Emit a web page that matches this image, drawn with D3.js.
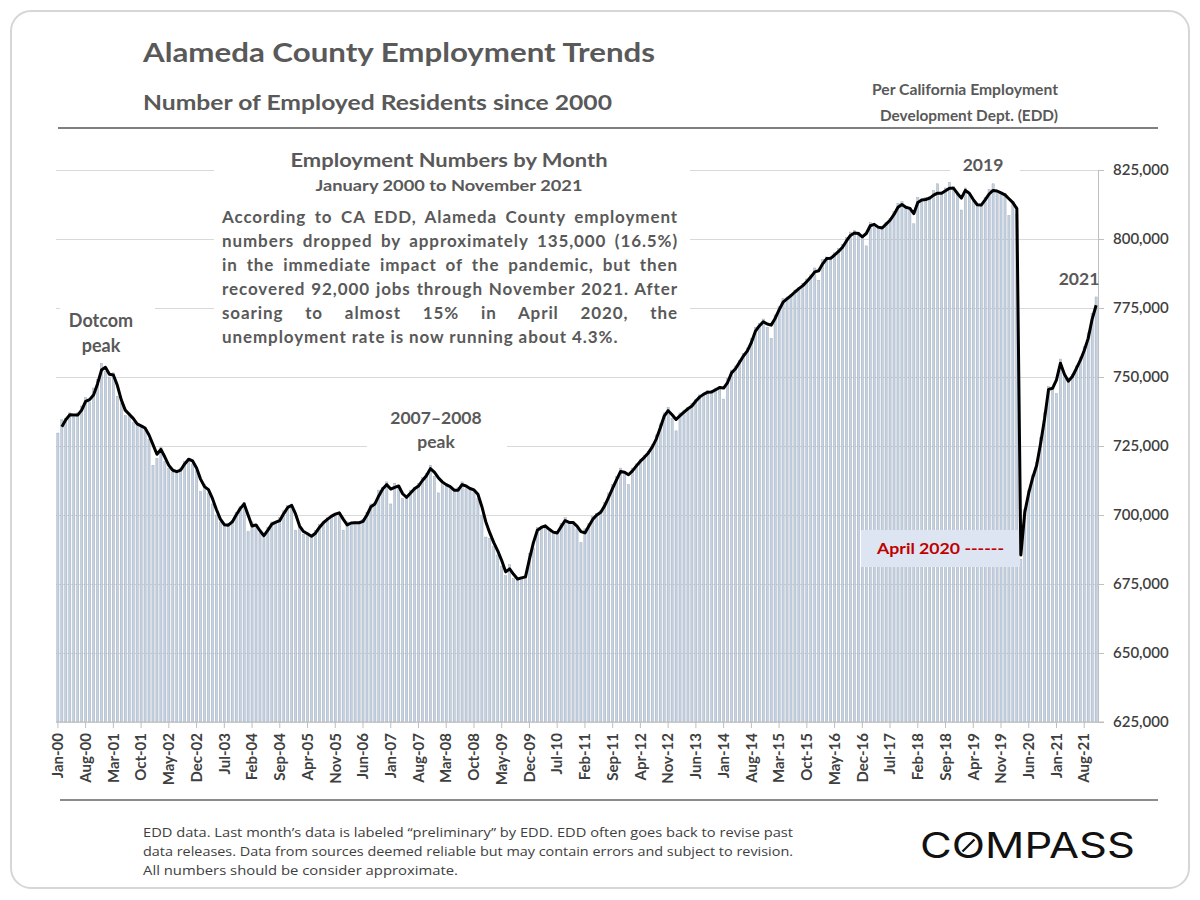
<!DOCTYPE html>
<html><head><meta charset="utf-8">
<script src="https://cdn.jsdelivr.net/npm/d3@7"></script>
<style>
body{margin:0;background:#fff;}
svg{display:block;font-family:Lato,'Open Sans',sans-serif;}
</style>
</head><body><svg id="c" width="1200" height="900"></svg>
<script>
// ---- categories: months Jan-2000 .. Nov-2021
const months = d3.timeMonth.range(new Date(2000,0,1), new Date(2021,11,1)).map(d3.timeFormat("%b-%y"));

// ---- bars: monthly employed residents
const barValues = [
 729700,734500,735000,737000,735500,737000,739500,742500,741000,746000,749000,755000,
 752000,750000,751500,743000,740500,736000,737000,733500,732500,732000,731000,727500,
 718000,720500,724500,719500,717000,715500,716000,717000,719500,720500,718500,716000,
 708500,711000,708000,704000,700000,697500,696000,697000,698000,701000,703000,704500,
 694000,697500,695500,693500,692000,695500,697500,697000,699000,701500,703500,703000,
 694500,695500,693000,693000,692000,694500,696500,697500,699000,700000,700500,701000,
 694500,697500,697000,697500,697000,698500,701000,704000,704500,709000,710000,712000,
 704000,711500,709500,706000,707000,709000,710000,711500,713500,715000,718000,714000,
 708000,711500,710500,710000,708500,710000,712000,709500,709500,708500,706000,700000,
 692000,691500,688500,685500,681500,678000,682000,677000,676500,677500,678000,686000,
 688000,695500,696000,696000,694000,693500,694000,697000,699000,697000,697500,695000,
 690000,695000,697000,699500,700500,701500,704500,708000,711000,714000,717000,715000,
 711000,717000,718500,720000,721500,723000,725500,729000,733000,737000,739000,735000,
 730500,737000,738000,739000,740500,742000,743500,744000,745000,745000,746000,746500,
 742000,749500,752500,754000,756000,758500,760500,764000,768000,769500,771000,768000,
 764000,772500,775500,778500,779000,780000,781500,782500,784000,785500,787000,789500,
 785000,792500,793500,793500,795000,796500,798000,800500,802500,803000,802500,801000,
 797500,806000,805500,804000,804500,806000,807500,810000,813000,813500,811500,811500,
 805500,815000,814500,815000,815500,817500,820000,817000,818500,820500,819000,817000,
 810500,818500,816000,813500,812000,812500,815000,818000,820000,817500,817000,816500,
 808500,813500,809000,684000,702000,709000,714500,719000,728000,737000,746500,746000,
 744000,756500,750500,749000,751000,754000,757000,761000,766000,773000,779000
];

// ---- black trend line (starts at Feb-00)
const lineValues = [
 null,732000,734500,736300,736200,736200,738000,741200,741800,743500,747500,752500,
 753500,751000,750700,747000,741700,738000,736500,735000,733000,732300,731500,729000,
 725500,722000,723800,721000,718000,716200,715700,716300,718500,720200,719600,717000,
 713000,710300,709200,706000,702000,698500,696500,696300,697500,700000,702300,704000,
 700000,696000,696400,694300,692500,694500,696700,697400,698000,700500,702700,703500,
 700300,696000,694000,693200,692300,693400,695500,697200,698400,699500,700300,700800,
 698500,696400,697100,697200,697200,697700,700000,703000,704000,707000,709500,711000,
 709400,710000,710500,707700,706400,708000,709500,710500,712500,714200,716800,715500,
 713500,712000,711000,710300,709000,709000,711000,710500,709600,709100,707500,703000,
 697500,693500,690000,687000,683500,679400,680500,678500,676800,677200,677600,684000,
 690000,694500,695500,696100,694800,693800,693500,695800,698000,697300,697300,696000,
 694000,693500,696000,698500,700000,701000,703400,706500,709700,712800,715800,715500,
 714600,716000,717800,719500,720900,722500,724700,727500,731500,735800,737800,736300,
 734600,736000,737300,738500,739500,741300,742800,743800,744500,744600,745400,746200,
 746000,748000,751500,753000,755300,757600,759500,762500,766500,768500,770000,769200,
 768800,771200,774300,777100,778300,779500,780800,782000,783100,784600,786200,788100,
 788500,791000,792900,793000,794200,795500,797000,799300,801300,802200,802000,800800,
 802000,804800,805300,804300,804000,805400,806800,808900,811500,812500,811500,811100,
 809200,813200,814100,814300,814800,815900,816600,816600,817500,818400,818400,816500,
 814800,817600,816600,814300,812400,812300,814200,816300,817600,817400,816700,816000,
 814600,813200,811000,685500,701000,708000,713500,718000,726000,735000,745500,745900,
 749000,755000,751000,748500,750200,753000,756000,759600,764000,771000,776000
];

const xTickLabels = ["Jan-00","Aug-00","Mar-01","Oct-01","May-02","Dec-02","Jul-03","Feb-04","Sep-04",
 "Apr-05","Nov-05","Jun-06","Jan-07","Aug-07","Mar-08","Oct-08","May-09","Dec-09","Jul-10","Feb-11",
 "Sep-11","Apr-12","Nov-12","Jun-13","Jan-14","Aug-14","Mar-15","Oct-15","May-16","Dec-16","Jul-17",
 "Feb-18","Sep-18","Apr-19","Nov-19","Jun-20","Jan-21","Aug-21"];
const yTicks = [625000,650000,675000,700000,725000,750000,775000,800000,825000];

const paragraph = [
 "According to CA EDD, Alameda County employment",
 "numbers dropped by approximately 135,000 (16.5%)",
 "in the immediate impact of the pandemic, but then",
 "recovered 92,000 jobs through November 2021. After",
 "soaring to almost 15% in April 2020, the",
 "unemployment rate is now running about 4.3%."
];
const footer = [
 "EDD data. Last month\u2019s data is labeled \u201cpreliminary\u201d by EDD. EDD often goes back to revise past",
 "data releases. Data from sources deemed reliable but may contain errors and subject to revision.",
 "All numbers should be consider approximate."
];

const svg = d3.select("#c");
const TXT = "#595959";

// card
svg.append("rect").attr("x",11).attr("y",11).attr("width",1178).attr("height",877)
  .attr("rx",20).attr("fill","#fff").attr("stroke","#d6d6d6").attr("stroke-width",2);

function txt(x,y,s,size,opts={}){
  const t = svg.append("text").attr("x",x).attr("y",y).text(s)
    .attr("font-size",size).attr("font-weight",opts.weight||700)
    .attr("fill",opts.fill||TXT).attr("text-anchor",opts.anchor||"start");
  if(opts.family) t.attr("font-family",opts.family);
  if(opts.len){ t.attr("textLength",opts.len).attr("lengthAdjust","spacingAndGlyphs"); }
  return t;
}

// titles
txt(143,62,"Alameda County Employment Trends",27,{len:512});
txt(143,110,"Number of Employed Residents since 2000",21,{len:469});
txt(1058,95,"Per California Employment",14.5,{anchor:"end",len:186});
txt(1058,121,"Development Dept. (EDD)",14.5,{anchor:"end",len:178});
svg.append("line").attr("x1",58).attr("x2",1158).attr("y1",128).attr("y2",128).attr("stroke","#7f7f7f").attr("stroke-width",2);
svg.append("line").attr("x1",60).attr("x2",1158).attr("y1",800).attr("y2",800).attr("stroke","#8c8c8c").attr("stroke-width",2);

// scales
const x = d3.scaleBand().domain(months).range([56,1098]).paddingInner(0.45).paddingOuter(0.2);
const y = d3.scaleLinear().domain([625000,825000]).range([722,170]);
const cx = m => x(m) + x.bandwidth()/2;

// gridlines
const grid = svg.append("g").attr("transform","translate(1098,0)")
  .call(d3.axisRight(y).tickValues(yTicks).tickSize(-(1098-56)).tickFormat(""));
grid.select(".domain").remove();
grid.selectAll("line").attr("stroke","#d9d9d9").attr("stroke-width",1.2);

// white label backgrounds (cover gridlines)
[[60,300,95,58],[214,145,476,208],[275,145,356,60],[367,400,140,56],[950,150,70,28]].forEach(r=>{
  svg.append("rect").attr("x",r[0]).attr("y",r[1]).attr("width",r[2]).attr("height",r[3]).attr("fill","#fff");
});

// bars
svg.append("g").selectAll("rect").data(barValues).join("rect")
  .attr("x",(d,i)=>x(months[i])).attr("width",x.bandwidth())
  .attr("y",d=>y(d)).attr("height",d=>y(625000)-y(d))
  .attr("fill","#c3d1e3").attr("stroke","#9ea8b4").attr("stroke-width",0.45);

// April 2020 box
svg.append("rect").attr("x",861).attr("y",530).attr("width",159).attr("height",37).attr("fill","#dce5f1");
txt(877,554,"April 2020 ------",16,{fill:"#c00000",len:127});

// line
svg.append("path").datum(lineValues)
  .attr("d", d3.line().defined(d=>d!=null).x((d,i)=>cx(months[i])).y(d=>y(d)))
  .attr("fill","none").attr("stroke","#000").attr("stroke-width",3).attr("stroke-linejoin","round");

// right axis
const ya = svg.append("g").attr("transform","translate(1098,0)")
  .call(d3.axisRight(y).tickValues(yTicks).tickSize(6).tickPadding(9).tickFormat(d3.format(",")));
ya.select(".domain").attr("stroke","#bfbfbf");
ya.selectAll("line").attr("stroke","#bfbfbf");
ya.selectAll("text").attr("font-size",15).attr("font-weight",600).attr("fill","#404040")
  .attr("font-family","Lato,'Open Sans',sans-serif");

// x axis
const xa = svg.append("g").attr("transform","translate(0,722)")
  .call(d3.axisBottom(x).tickValues(xTickLabels).tickSize(6).tickPadding(4).tickSizeOuter(0));
xa.select(".domain").attr("stroke","#bfbfbf").attr("d","M56,0H1104");
xa.selectAll("line").attr("stroke","#bfbfbf");
xa.selectAll("text").attr("font-size",15).attr("font-weight",700).attr("fill","#404040")
  .attr("font-family","Lato,'Open Sans',sans-serif")
  .attr("transform","rotate(-90)").attr("text-anchor","end").attr("dy","0.35em")
  .attr("x",-11).attr("y",0);

// annotation text
txt(449,167,"Employment Numbers by Month",18,{anchor:"middle",len:317});
txt(449,191,"January 2000 to November 2021",15,{anchor:"middle",len:267});
paragraph.forEach((s,i)=>{
  const t = txt(222,223+i*24,s,17).attr("letter-spacing",0.9);
  if(i<paragraph.length-1){
    const nat = t.node().getComputedTextLength();
    const spaces = (s.match(/ /g)||[]).length;
    t.attr("word-spacing",Math.max(0,(456-nat)/spaces));
  }
});
txt(101,327,"Dotcom",18,{anchor:"middle"});
txt(101,352,"peak",18,{anchor:"middle"});
txt(436,424,"2007\u20132008",17.5,{anchor:"middle"});
txt(436,448,"peak",17.5,{anchor:"middle"});
txt(983,171,"2019",17.5,{anchor:"middle"});
txt(1079,285,"2021",17.5,{anchor:"middle"});

// footer
footer.forEach((s,i)=>{
  txt(143,837+i*19,s,13.5,{weight:400,fill:"#404040",family:"'Liberation Sans Narrow','Open Sans',sans-serif",len:[650,650,315][i]});
});
const logo = txt(920,858,"COMPASS",35,{weight:400,fill:"#111",family:"Inter,'Open Sans',sans-serif",len:215});
const ob = logo.node().getExtentOfChar(1);
const ocx = ob.x+ob.width/2, ocy = 858-12.5;
svg.append("line").attr("x1",ocx-6).attr("y1",ocy+6).attr("x2",ocx+6).attr("y2",ocy-6)
  .attr("stroke","#111").attr("stroke-width",2.2);
</script></body></html>
